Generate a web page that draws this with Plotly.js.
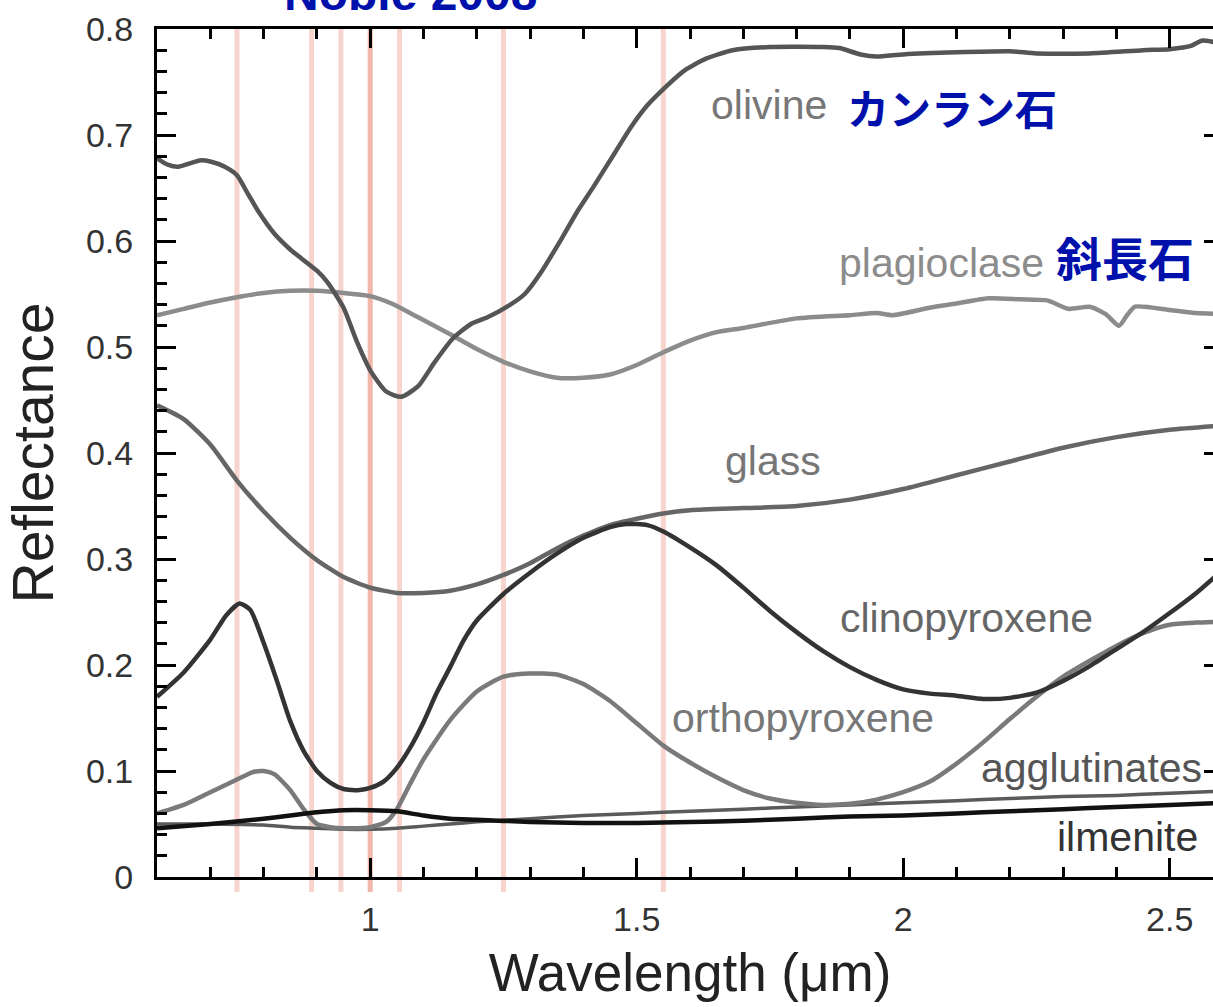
<!DOCTYPE html>
<html>
<head>
<meta charset="utf-8">
<script src="https://cdn.plot.ly/plotly-3.0.1.min.js"></script>
<style>
  html, body { margin: 0; padding: 0; overflow: hidden; background: #fff; }
  #chart { width: 1230px; height: 1007px; }
</style>
</head>
<body>
<div id="chart"></div>
<script>
// ---- Data (wavelength in micrometres, reflectance) ----
const olivineWl = [0.6, 0.62, 0.64, 0.66, 0.68, 0.7, 0.727, 0.75, 0.77, 0.79, 0.82, 0.85, 0.88, 0.9, 0.92, 0.95, 0.975, 1.0, 1.03, 1.058, 1.09, 1.12, 1.155, 1.19, 1.22, 1.26, 1.29, 1.32, 1.36, 1.39, 1.42, 1.46, 1.49, 1.52, 1.56, 1.59, 1.63, 1.68, 1.75, 1.85, 1.88, 1.92, 1.95, 2.0, 2.1, 2.2, 2.25, 2.35, 2.45, 2.5, 2.54, 2.56, 2.6];
const olivineR  = [0.678, 0.672, 0.670, 0.673, 0.676, 0.675, 0.670, 0.662, 0.645, 0.628, 0.607, 0.592, 0.580, 0.572, 0.561, 0.537, 0.505, 0.478, 0.458, 0.453, 0.463, 0.485, 0.508, 0.522, 0.528, 0.539, 0.550, 0.570, 0.603, 0.629, 0.652, 0.684, 0.708, 0.728, 0.748, 0.761, 0.772, 0.780, 0.783, 0.783, 0.782, 0.776, 0.774, 0.776, 0.778, 0.779, 0.777, 0.777, 0.780, 0.781, 0.784, 0.789, 0.786];

const plagWl = [0.6, 0.65, 0.7, 0.75, 0.8, 0.85, 0.9, 0.95, 1.0, 1.04, 1.09, 1.15, 1.2, 1.25, 1.3, 1.35, 1.4, 1.45, 1.5, 1.55, 1.6, 1.65, 1.7, 1.8, 1.9, 1.95, 1.98, 2.05, 2.1, 2.16, 2.22, 2.27, 2.31, 2.35, 2.38, 2.405, 2.42, 2.435, 2.5, 2.55, 2.6];
const plagR  = [0.530, 0.536, 0.542, 0.547, 0.551, 0.553, 0.553, 0.551, 0.548, 0.541, 0.528, 0.512, 0.498, 0.486, 0.477, 0.471, 0.471, 0.474, 0.483, 0.495, 0.506, 0.514, 0.518, 0.527, 0.530, 0.532, 0.530, 0.537, 0.541, 0.546, 0.545, 0.544, 0.536, 0.538, 0.531, 0.520, 0.530, 0.538, 0.535, 0.532, 0.531];

const glassWl = [0.6, 0.65, 0.7, 0.75, 0.8, 0.85, 0.9, 0.95, 1.0, 1.05, 1.1, 1.15, 1.2, 1.25, 1.3, 1.35, 1.4, 1.45, 1.5, 1.55, 1.6, 1.7, 1.8, 1.9, 2.0, 2.1, 2.2, 2.3, 2.4, 2.5, 2.6];
const glassR  = [0.445, 0.432, 0.408, 0.374, 0.345, 0.320, 0.299, 0.283, 0.273, 0.268, 0.268, 0.270, 0.276, 0.285, 0.296, 0.310, 0.322, 0.332, 0.338, 0.343, 0.346, 0.348, 0.350, 0.356, 0.366, 0.379, 0.392, 0.405, 0.415, 0.422, 0.426];

const cpxWl = [0.6, 0.65, 0.7, 0.73, 0.755, 0.775, 0.8, 0.825, 0.85, 0.875, 0.9, 0.925, 0.95, 0.98, 1.0, 1.025, 1.05, 1.075, 1.1, 1.125, 1.15, 1.175, 1.2, 1.25, 1.3, 1.35, 1.4, 1.45, 1.48, 1.52, 1.55, 1.6, 1.65, 1.7, 1.75, 1.8, 1.85, 1.9, 1.95, 2.0, 2.05, 2.1, 2.15, 2.2, 2.25, 2.3, 2.35, 2.4, 2.45, 2.5, 2.55, 2.6];
const cpxR  = [0.170, 0.193, 0.224, 0.247, 0.258, 0.252, 0.221, 0.185, 0.147, 0.119, 0.100, 0.089, 0.083, 0.082, 0.084, 0.090, 0.103, 0.122, 0.146, 0.174, 0.198, 0.223, 0.242, 0.267, 0.287, 0.305, 0.320, 0.330, 0.333, 0.332, 0.326, 0.311, 0.294, 0.273, 0.251, 0.231, 0.213, 0.198, 0.186, 0.177, 0.173, 0.171, 0.168, 0.169, 0.174, 0.185, 0.199, 0.215, 0.231, 0.249, 0.268, 0.290];

const opxWl = [0.6, 0.65, 0.7, 0.75, 0.78, 0.8, 0.82, 0.85, 0.875, 0.9, 0.925, 0.95, 1.0, 1.03, 1.05, 1.075, 1.1, 1.15, 1.2, 1.25, 1.3, 1.35, 1.4, 1.45, 1.5, 1.55, 1.6, 1.65, 1.7, 1.75, 1.8, 1.85, 1.9, 1.95, 2.0, 2.05, 2.1, 2.15, 2.2, 2.25, 2.3, 2.35, 2.4, 2.45, 2.5, 2.55, 2.6];
const opxR  = [0.060, 0.068, 0.080, 0.092, 0.099, 0.100, 0.097, 0.082, 0.064, 0.050, 0.047, 0.046, 0.047, 0.052, 0.064, 0.088, 0.111, 0.148, 0.175, 0.189, 0.192, 0.191, 0.182, 0.166, 0.145, 0.124, 0.108, 0.094, 0.082, 0.074, 0.070, 0.068, 0.069, 0.073, 0.080, 0.090, 0.107, 0.127, 0.149, 0.170, 0.189, 0.204, 0.218, 0.230, 0.238, 0.240, 0.241];

const aggWl = [0.6, 0.7, 0.8, 0.85, 0.9, 0.95, 1.0, 1.05, 1.1, 1.15, 1.2, 1.3, 1.4, 1.5, 1.6, 1.7, 1.8, 1.9, 2.0, 2.1, 2.2, 2.3, 2.4, 2.5, 2.6];
const aggR  = [0.050, 0.050, 0.049, 0.047, 0.046, 0.045, 0.045, 0.046, 0.048, 0.050, 0.052, 0.055, 0.058, 0.060, 0.062, 0.064, 0.066, 0.068, 0.070, 0.072, 0.074, 0.076, 0.077, 0.079, 0.081];

const ilmWl = [0.6, 0.7, 0.8, 0.85, 0.9, 0.95, 1.0, 1.05, 1.1, 1.15, 1.2, 1.3, 1.4, 1.5, 1.6, 1.7, 1.8, 1.9, 2.0, 2.1, 2.2, 2.3, 2.4, 2.5, 2.6];
const ilmR  = [0.046, 0.050, 0.055, 0.058, 0.061, 0.063, 0.063, 0.062, 0.058, 0.055, 0.054, 0.052, 0.051, 0.051, 0.052, 0.053, 0.055, 0.057, 0.058, 0.060, 0.062, 0.064, 0.066, 0.068, 0.070];

// Kaguya MI band centres (VIS and NIR both have a band at 1.0)
const miBands = [0.75, 0.89, 0.945, 1.0, 1.0, 1.055, 1.25, 1.55];

// Tick labels
const xTickVals = [1, 1.5, 2, 2.5];
const xTickText = ['1', '1.5', '2', '2.5'];
const yTickVals = [0, 0.1, 0.2, 0.3, 0.4, 0.5, 0.6, 0.7, 0.8];
const yTickText = ['0', '0.1', '0.2', '0.3', '0.4', '0.5', '0.6', '0.7', '0.8'];

// ---- Traces ----
function spec(name, x, y, color, width) {
  return {
    type: 'scatter', mode: 'lines', name: name, x: x, y: y,
    line: { color: color, width: width, shape: 'spline', smoothing: 0.6 },
    hoverinfo: 'x+y+name'
  };
}
const traces = [
  spec('agglutinates', aggWl, aggR, '#5a5a5a', 3.5),
  spec('orthopyroxene', opxWl, opxR, '#7a7a7a', 4.5),
  spec('glass', glassWl, glassR, '#666666', 4.5),
  spec('plagioclase', plagWl, plagR, '#8c8c8c', 4.5),
  spec('olivine', olivineWl, olivineR, '#555555', 4.5),
  spec('clinopyroxene', cpxWl, cpxR, '#333333', 4.5),
  spec('ilmenite', ilmWl, ilmR, '#111111', 4.5)
];

const shapes = miBands.map(w => ({
  type: 'line', xref: 'x', yref: 'paper', layer: 'below',
  x0: w, x1: w, y0: -0.0177, y1: 1,
  line: { color: 'rgba(230,120,100,0.32)', width: 5 }
}));

const labelFont = (size, color) => ({ family: 'Liberation Sans, Arial, sans-serif', size: size, color: color });
const jpFont = { family: 'Noto Sans CJK JP, sans-serif', size: 42, color: '#0010AA', weight: 'bold' };

function label(text, x, y, font) {
  return { text: text, x: x, y: y, xref: 'x', yref: 'y', xanchor: 'left', yanchor: 'middle', showarrow: false, font: font };
}

const annotations = [
  label('olivine', 1.636, 0.7285, labelFont(41, '#777777')),
  label('plagioclase', 1.875, 0.579, labelFont(41, '#8c8c8c')),
  label('glass', 1.662, 0.392, labelFont(41, '#777777')),
  label('clinopyroxene', 1.877, 0.2442, labelFont(41, '#666666')),
  label('orthopyroxene', 1.563, 0.1498, labelFont(41, '#777777')),
  label('agglutinates', 2.142, 0.1026, labelFont(41, '#555555')),
  label('ilmenite', 2.285, 0.0382, labelFont(41, '#333333')),
  label('カンラン石', 1.890, 0.727, jpFont),
  label('斜長石', 2.282, 0.5856, Object.assign({}, jpFont, { size: 46 })),
  { text: 'Noble 2008', xref: 'paper', yref: 'paper', x: (282 - 157) / 1066, y: 1.0415,
    xanchor: 'left', yanchor: 'middle', showarrow: false,
    font: { family: 'Liberation Sans, Arial, sans-serif', size: 48, color: '#0010AA', weight: 'bold' } }
];

const axisCommon = {
  showline: true, linecolor: '#000', linewidth: 3, mirror: 'allticks',
  ticks: 'inside', ticklen: 19, tickwidth: 3, tickcolor: '#000',
  showgrid: false, zeroline: false,
  tickfont: { family: 'Liberation Sans, Arial, sans-serif', size: 34, color: '#333333' }
};

const layout = {
  width: 1230, height: 1007,
  margin: { l: 157, r: 7, t: 29, b: 130 },
  paper_bgcolor: '#ffffff', plot_bgcolor: '#ffffff',
  showlegend: false,
  xaxis: Object.assign({}, axisCommon, {
    range: [0.6, 2.6],
    tickmode: 'array', tickvals: xTickVals, ticktext: xTickText,
    minor: { dtick: 0.1, tick0: 0, ticks: 'inside', ticklen: 10, tickwidth: 3, tickcolor: '#000' },
    ticklabelstandoff: 10,
    title: { text: 'Wavelength (μm)', standoff: 18,
      font: { family: 'Liberation Sans, Arial, sans-serif', size: 53, color: '#222222' } }
  }),
  yaxis: Object.assign({}, axisCommon, {
    range: [0, 0.8],
    tickmode: 'array', tickvals: yTickVals, ticktext: yTickText,
    minor: { dtick: 0.02, tick0: 0, ticks: 'inside', ticklen: 10, tickwidth: 3, tickcolor: '#000' },
    ticklabelstandoff: 14,
    title: { text: 'Reflectance', standoff: 14,
      font: { family: 'Liberation Sans, Arial, sans-serif', size: 57, color: '#222222' } }
  }),
  shapes: shapes,
  annotations: annotations
};

Plotly.newPlot('chart', traces, layout, { displayModeBar: false, staticPlot: false });
</script>
</body>
</html>
